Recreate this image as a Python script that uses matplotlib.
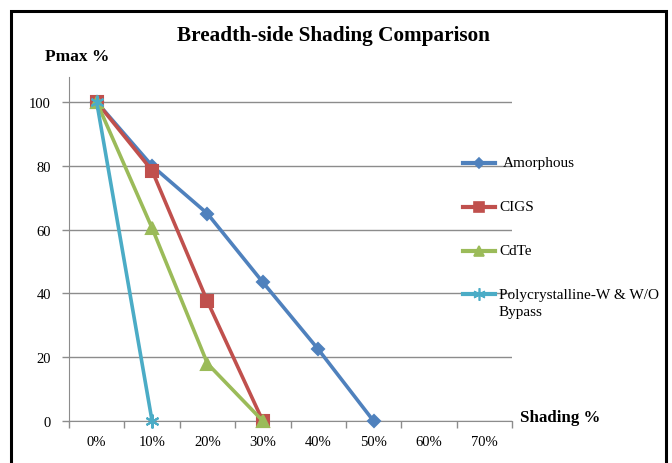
import matplotlib
matplotlib.use("Agg")
import matplotlib.pyplot as plt
from matplotlib.patches import Rectangle
from matplotlib.lines import Line2D

categories = ["0%", "10%", "20%", "30%", "40%", "50%", "60%", "70%"]
amorphous = [100, 80, 65, 43.5, 22.5, 0]
cigs = [100, 78.5, 37.5, 0]
cdte = [100, 60.5, 18, 0]
poly = [100, 0]
series_names = ["Amorphous", "CIGS", "CdTe", "Polycrystalline-W & W/O\nBypass"]
y_ticks = [0, 20, 40, 60, 80, 100]

W, H = 672, 464
fig = plt.figure(figsize=(W / 100, H / 100), dpi=100)
fig.patch.set_facecolor("white")
serif = "Liberation Serif"

# axes placement in pixels
x0, x1 = 69, 512
y_top, y_bot = 78, 422
ax = fig.add_axes([x0 / W, 1 - y_bot / H, (x1 - x0) / W, (y_bot - y_top) / H])
ax.set_xlim(-0.5, 7.5)
ax.set_ylim(0, 100 * (y_bot - y_top) / (422 - 103))

colors = ["#4F81BD", "#C0504D", "#9BBB59", "#4BACC6"]
markers = ["D", "s", "^", (6, 2, 0)]
msizes = [6, 8, 8, 10]
data = [amorphous, cigs, cdte, poly]
for vals, c, m, ms in zip(data, colors, markers, msizes):
    xs = list(range(len(vals)))
    ax.plot(xs, vals, color=c, lw=2.6, marker=m, ms=ms,
            markerfacecolor=c, markeredgecolor=c, mew=1.5,
            clip_on=False, zorder=3)

ax.set_yticks(y_ticks)
ax.set_yticklabels([str(v) for v in y_ticks], fontfamily=serif, fontsize=10.5)
ax.yaxis.grid(True, color="#8c8c8c", lw=1)
ax.set_axisbelow(True)
ax.set_xticks(range(len(categories)))
ax.set_xticklabels(categories, fontfamily=serif, fontsize=10.5)
ax.tick_params(axis="x", length=0, pad=10)
ax.set_xticks([i + 0.5 for i in range(-1, len(categories))], minor=True)
ax.tick_params(axis="x", which="minor", length=5, color="#8c8c8c", width=1)
ax.tick_params(axis="y", length=5, color="#8c8c8c", width=1, pad=8)
for s in ["top", "right"]:
    ax.spines[s].set_visible(False)
ax.spines["left"].set_color("#8c8c8c")
ax.spines["bottom"].set_color("#8c8c8c")

fig.text(333 / W, 1 - 36 / H, "Breadth-side Shading Comparison", ha="center", va="center",
         fontfamily=serif, fontweight="bold", fontsize=15.3)
fig.text(45 / W, 1 - 57 / H, "Pmax %", ha="left", va="center",
         fontfamily=serif, fontweight="bold", fontsize=12.5)
fig.text(520 / W, 1 - 418 / H, "Shading %", ha="left", va="center",
         fontfamily=serif, fontweight="bold", fontsize=12.2)

# manual legend (handle aligned with first text line, as in the reference)
leg_rows_y = [164, 208, 252, 295]
leg_text_x = [503, 499, 499, 499]
leg_ms = [5, 7, 7, 9]
for name, c, m, ms, yy, tx in zip(series_names, colors, markers, leg_ms,
                                  leg_rows_y, leg_text_x):
    yf = 1 - yy / H
    fig.add_artist(Line2D([463 / W, 495 / W], [yf, yf], transform=fig.transFigure,
                          color=c, lw=3, zorder=5))
    fig.add_artist(Line2D([479 / W], [yf], transform=fig.transFigure, color=c,
                          marker=m, ms=ms, markerfacecolor=c, markeredgecolor=c,
                          mew=1.2, zorder=6))
    for k, line in enumerate(name.split("\n")):
        fig.text(tx / W, 1 - (yy + 18 * k) / H, line, ha="left", va="center",
                 fontfamily=serif, fontsize=11)

fig.add_artist(Rectangle((11 / W, -0.05), (666 - 11) / W, 1.05 - 12 / H,
                         transform=fig.transFigure, fill=False,
                         edgecolor="black", lw=2.2))

fig.savefig("out.png", dpi=100)
